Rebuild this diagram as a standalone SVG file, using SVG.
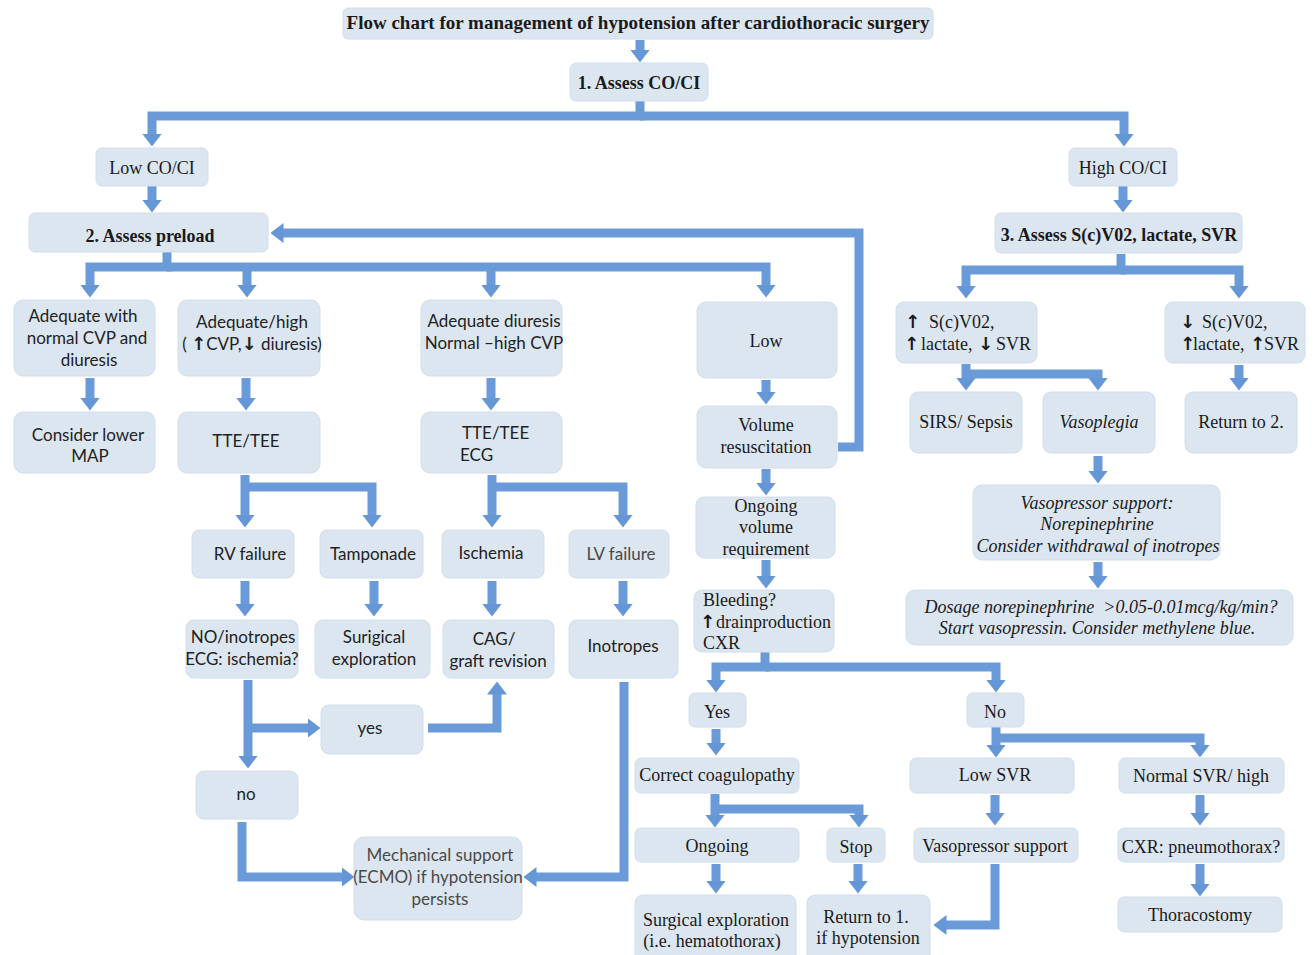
<svg xmlns="http://www.w3.org/2000/svg" width="1314" height="955" viewBox="0 0 1314 955">
<defs>
<marker id="ah" markerUnits="userSpaceOnUse" markerWidth="13" markerHeight="20" viewBox="0 0 13 20" refX="0.5" refY="10" orient="auto">
<path d="M0,0 L13,10 L0,20 Z" fill="#6597d6"/>
</marker>
<style>
.box{fill:#dce6f1;stroke:#d2deeb;stroke-width:1}
.s{font-family:"Liberation Serif","Times New Roman",serif;font-size:18px;fill:#1a1a1a;text-anchor:middle}
.b{font-weight:bold}
.i{font-style:italic}
.t{font-size:19px}
.c{font-family:Lato,"Open Sans",sans-serif;font-size:17px;fill:#222222;text-anchor:middle}
.g{fill:#4a4a4a}
.st{text-anchor:start}
.ar{font-family:"DejaVu Sans",sans-serif;font-weight:bold;font-size:18px}
.cn path{fill:none;stroke:#6a9bd8;stroke-width:9;stroke-linejoin:miter;stroke-linecap:butt;marker-end:url(#ah)}
</style>
</defs>
<rect width="1314" height="955" fill="#ffffff"/>

<g id="connectors" class="cn">
<path d="M640,40 V50"/>
<path d="M640,101 V116 H152 V134"/>
<path d="M640,116 H1124 V134"/>
<path d="M152,186 V200"/>
<path d="M1123,186 V200"/>
<path d="M838,447 H859 V233 H283"/>
<path d="M167,252 V267 H90 V285"/>
<path d="M167,267 H766 V285"/>
<path d="M247,267 V285"/>
<path d="M491,267 V285"/>
<path d="M1121,254 V270 H966 V286"/>
<path d="M1121,270 H1239 V286"/>
<path d="M90,378 V398"/>
<path d="M246,378 V398"/>
<path d="M491,378 V398"/>
<path d="M766,380 V392"/>
<path d="M766,469 V483"/>
<path d="M766,560 V576"/>
<path d="M245,475 V515"/>
<path d="M245,487 H372 V515"/>
<path d="M492,475 V515"/>
<path d="M492,487 H623 V515"/>
<path d="M245,581 V604"/>
<path d="M374,581 V604"/>
<path d="M492,581 V604"/>
<path d="M623,581 V604"/>
<path d="M248,680 V756"/>
<path d="M248,728 H308"/>
<path d="M428,728 H497 V694"/>
<path d="M242,822 V877 H342"/>
<path d="M624,682 V877 H536"/>
<path d="M765,652 V667 H716 V680"/>
<path d="M765,667 H996 V680"/>
<path d="M716,729 V743"/>
<path d="M996,727 V745"/>
<path d="M996,738 H1200 V745"/>
<path d="M715,794 V815"/>
<path d="M715,809 H859 V815"/>
<path d="M716,864 V881"/>
<path d="M858,864 V881"/>
<path d="M995,795 V813"/>
<path d="M1200,795 V813"/>
<path d="M1200,864 V884"/>
<path d="M995,864 V925 H946"/>
<path d="M966,364 V378"/>
<path d="M966,374 H1098 V378"/>
<path d="M1239,365 V378"/>
<path d="M1098,456 V471"/>
<path d="M1098,562 V576"/>
</g>

<g id="title"><rect class="box" x="343" y="8" width="590" height="31" rx="5"/><text class="s b t" x="638" y="29">Flow chart for management of hypotension after cardiothoracic surgery</text></g>
<g id="n1"><rect class="box" x="570" y="63" width="138" height="38" rx="6"/><text class="s b" x="639" y="89">1. Assess CO/CI</text></g>
<g id="lowco"><rect class="box" x="96" y="148" width="112" height="38" rx="6"/><text class="s" x="152" y="174">Low CO/CI</text></g>
<g id="highco"><rect class="box" x="1069" y="148" width="108" height="38" rx="6"/><text class="s" x="1123" y="174">High CO/CI</text></g>
<g id="n2"><rect class="box" x="29" y="213" width="239" height="39" rx="6"/><text class="s b" x="150" y="242">2. Assess preload</text></g>
<g id="n3"><rect class="box" x="995" y="213" width="247" height="40" rx="6"/><text class="s b" x="1119" y="241">3. Assess S(c)V02, lactate, SVR</text></g>

<g id="adeqnormal"><rect class="box" x="14" y="300" width="141" height="76" rx="9"/><text class="c" x="83" y="322">Adequate with</text><text class="c" x="87" y="344">normal CVP and</text><text class="c" x="89" y="366">diuresis</text></g>
<g id="adeqhigh"><rect class="box" x="178" y="300" width="142" height="76" rx="9"/><text class="c" x="252" y="328">Adequate/high</text><text class="c" x="252" y="350">( <tspan class="ar">↑</tspan>CVP,<tspan class="ar">↓</tspan> diuresis)</text></g>
<g id="adeqdiur"><rect class="box" x="421" y="300" width="141" height="76" rx="9"/><text class="c" x="494" y="327">Adequate diuresis</text><text class="c" x="494" y="349">Normal –high CVP</text></g>
<g id="low"><rect class="box" x="697" y="302" width="140" height="76" rx="9"/><text class="s" x="766" y="347">Low</text></g>

<g id="consider"><rect class="box" x="14" y="412" width="141" height="61" rx="9"/><text class="c" x="88" y="441">Consider lower</text><text class="c" x="90" y="462">MAP</text></g>
<g id="tte1"><rect class="box" x="178" y="412" width="142" height="61" rx="9"/><text class="c" x="246" y="447">TTE/TEE</text></g>
<g id="tte2"><rect class="box" x="421" y="412" width="141" height="61" rx="9"/><text class="c st" x="462" y="439">TTE/TEE</text><text class="c st" x="460" y="461">ECG</text></g>
<g id="volres"><rect class="box" x="697" y="406" width="140" height="62" rx="9"/><text class="s" x="766" y="431">Volume</text><text class="s" x="766" y="453">resuscitation</text></g>

<g id="rv"><rect class="box" x="192" y="530" width="102" height="48" rx="7"/><text class="c" x="250" y="560">RV failure</text></g>
<g id="tamp"><rect class="box" x="320" y="530" width="103" height="48" rx="7"/><text class="c" x="373" y="560">Tamponade</text></g>
<g id="isch"><rect class="box" x="442" y="530" width="102" height="48" rx="7"/><text class="c" x="491" y="559">Ischemia</text></g>
<g id="lv"><rect class="box" x="569" y="530" width="100" height="48" rx="7"/><text class="c g" x="621" y="560">LV failure</text></g>

<g id="noino"><rect class="box" x="186" y="620" width="112" height="58" rx="8"/><text class="c" x="243" y="643">NO/inotropes</text><text class="c" x="242" y="665">ECG: ischemia?</text></g>
<g id="surig"><rect class="box" x="315" y="620" width="115" height="58" rx="8"/><text class="c" x="374" y="643">Surigical</text><text class="c" x="374" y="665">exploration</text></g>
<g id="cag"><rect class="box" x="443" y="620" width="111" height="58" rx="8"/><text class="c" x="494" y="645">CAG/</text><text class="c" x="498" y="667">graft revision</text></g>
<g id="ino"><rect class="box" x="569" y="620" width="109" height="58" rx="8"/><text class="c" x="623" y="652">Inotropes</text></g>
<g id="yes"><rect class="box" x="321" y="705" width="102" height="49" rx="8"/><text class="c" x="370" y="734">yes</text></g>
<g id="no"><rect class="box" x="196" y="771" width="102" height="48" rx="8"/><text class="c" x="246" y="800">no</text></g>
<g id="mech"><rect class="box" x="354" y="837" width="168" height="83" rx="10"/><text class="c g" x="440" y="861">Mechanical support</text><text class="c g" x="438" y="883">(ECMO) if hypotension</text><text class="c g" x="440" y="905">persists</text></g>

<g id="ongvol"><rect class="box" x="696" y="497" width="139" height="61" rx="8"/><text class="s" x="766" y="512">Ongoing</text><text class="s" x="766" y="533">volume</text><text class="s" x="766" y="555">requirement</text></g>
<g id="bleed"><rect class="box" x="694" y="590" width="140" height="62" rx="8"/><text class="s st" x="703" y="606">Bleeding?</text><text class="s st" x="700" y="628"><tspan class="ar">↑</tspan><tspan x="716">drainproduction</tspan></text><text class="s st" x="703" y="649">CXR</text></g>

<g id="svo2up"><rect class="box" x="896" y="302" width="141" height="61" rx="8"/><text class="s st" x="905" y="328"><tspan class="ar">↑</tspan><tspan x="929">S(c)V02,</tspan></text><text class="s st" x="904" y="350"><tspan class="ar">↑</tspan><tspan x="921">lactate,</tspan><tspan class="ar" x="978">↓</tspan><tspan x="996">SVR</tspan></text></g>
<g id="svo2down"><rect class="box" x="1165" y="302" width="140" height="61" rx="8"/><text class="s st" x="1180" y="328"><tspan class="ar">↓</tspan><tspan x="1202">S(c)V02,</tspan></text><text class="s st" x="1180" y="350"><tspan class="ar">↑</tspan><tspan x="1193">lactate,</tspan><tspan class="ar" x="1250">↑</tspan><tspan x="1264">SVR</tspan></text></g>
<g id="sirs"><rect class="box" x="910" y="392" width="112" height="61" rx="8"/><text class="s" x="966" y="428">SIRS/ Sepsis</text></g>
<g id="vasopl"><rect class="box" x="1043" y="392" width="112" height="61" rx="8"/><text class="s i" x="1099" y="428">Vasoplegia</text></g>
<g id="ret2"><rect class="box" x="1185" y="392" width="112" height="61" rx="8"/><text class="s" x="1241" y="428">Return to 2.</text></g>
<g id="vasosup"><rect class="box" x="973" y="485" width="247" height="75" rx="9"/><text class="s i" x="1097" y="509">Vasopressor support:</text><text class="s i" x="1097" y="530">Norepinephrine</text><text class="s i" x="1098" y="552">Consider withdrawal of inotropes</text></g>
<g id="dosage"><rect class="box" x="906" y="590" width="387" height="55" rx="9"/><text class="s i" x="1101" y="613" xml:space="preserve">Dosage norepinephrine  &gt;0.05-0.01mcg/kg/min?</text><text class="s i" x="1097" y="634">Start vasopressin. Consider methylene blue.</text></g>

<g id="yesb"><rect class="box" x="689" y="693" width="57" height="34" rx="6"/><text class="s" x="717" y="718">Yes</text></g>
<g id="nob"><rect class="box" x="967" y="693" width="57" height="34" rx="6"/><text class="s" x="995" y="718">No</text></g>
<g id="coag"><rect class="box" x="635" y="758" width="164" height="35" rx="6"/><text class="s" x="717" y="781">Correct coagulopathy</text></g>
<g id="lowsvr"><rect class="box" x="910" y="758" width="164" height="35" rx="6"/><text class="s" x="995" y="781">Low SVR</text></g>
<g id="normsvr"><rect class="box" x="1119" y="758" width="165" height="35" rx="6"/><text class="s" x="1201" y="782">Normal SVR/ high</text></g>
<g id="ongoing"><rect class="box" x="635" y="828" width="164" height="34" rx="6"/><text class="s" x="717" y="852">Ongoing</text></g>
<g id="stop"><rect class="box" x="827" y="828" width="58" height="34" rx="6"/><text class="s" x="856" y="853">Stop</text></g>
<g id="vasosup2"><rect class="box" x="914" y="828" width="164" height="34" rx="6"/><text class="s" x="995" y="852">Vasopressor support</text></g>
<g id="cxr"><rect class="box" x="1118" y="828" width="166" height="34" rx="6"/><text class="s" x="1201" y="853">CXR: pneumothorax?</text></g>
<g id="surgexp"><rect class="box" x="635" y="895" width="161" height="70" rx="8"/><text class="s" x="716" y="926">Surgical exploration</text><text class="s" x="712" y="947">(i.e. hematothorax)</text></g>
<g id="ret1"><rect class="box" x="807" y="895" width="123" height="70" rx="8"/><text class="s" x="866" y="923">Return to 1.</text><text class="s" x="868" y="944">if hypotension</text></g>
<g id="thora"><rect class="box" x="1118" y="897" width="164" height="35" rx="6"/><text class="s" x="1200" y="921">Thoracostomy</text></g>
</svg>
